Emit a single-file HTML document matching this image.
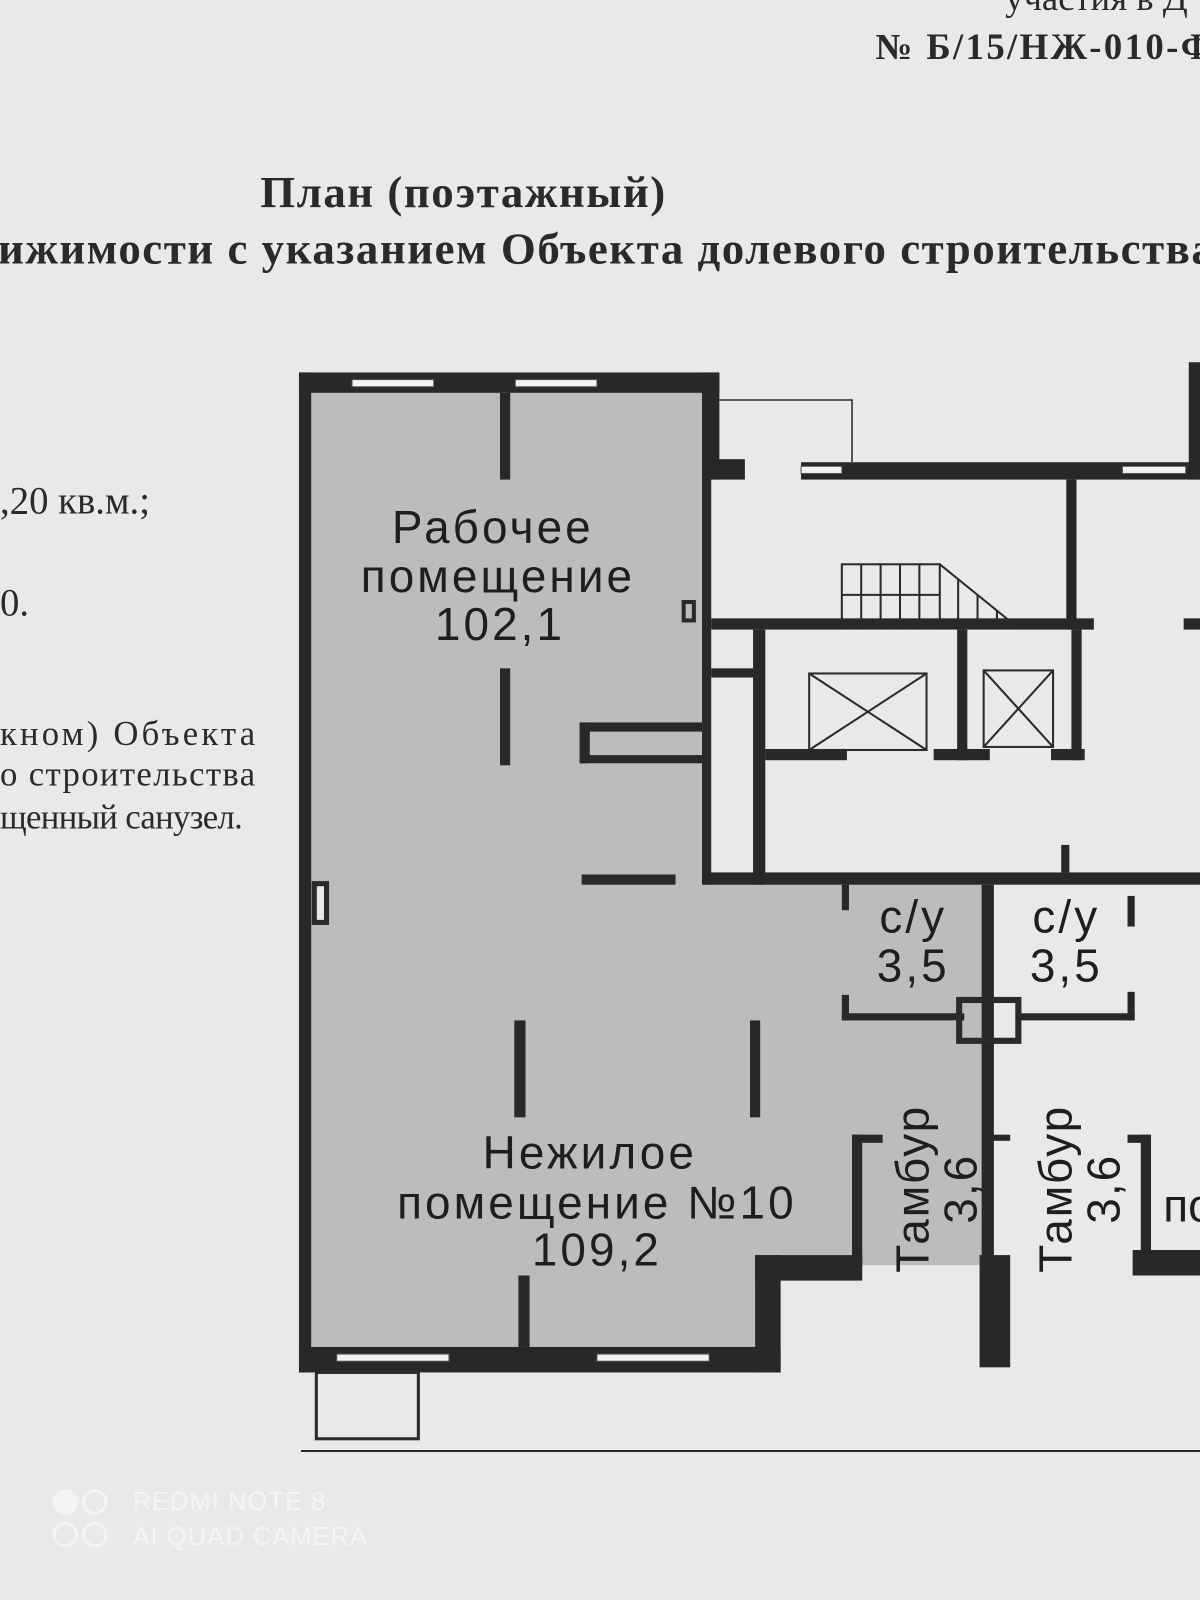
<!DOCTYPE html>
<html><head><meta charset="utf-8"><style>
html,body{margin:0;padding:0;width:1200px;height:1600px;overflow:hidden;background:#e9e9e7}
svg{display:block}
.s{font-family:"Liberation Serif","DejaVu Serif",serif;fill:#2a2a2a}
.p{font-family:"Liberation Sans","DejaVu Sans",sans-serif;fill:#1e1e1e}
</style></head><body>
<svg width="1200" height="1600" viewBox="0 0 1200 1600" xmlns="http://www.w3.org/2000/svg">
<rect width="1200" height="1600" fill="#e9e9e7"/>
<g transform="scale(1.0204)">
<text class="s" x="985" y="10" font-size="36">участия в Д</text>
<text class="s" x="858" y="58" font-size="36" font-weight="bold" textLength="330">№ Б/15/НЖ-010-Ф</text>
<text class="s" x="255" y="203" font-size="44" font-weight="bold" letter-spacing="1.5">План (поэтажный)</text>
<text class="s" x="-2" y="258" font-size="44" font-weight="bold" letter-spacing="1.5">ижимости с указанием Объекта долевого строительства</text>
<text class="s" x="0" y="503" font-size="38">,20 кв.м.;</text>
<text class="s" x="0" y="603" font-size="38">0.</text>
<text class="s" x="0" y="730" font-size="34" textLength="250">кном)   Объекта</text>
<text class="s" x="0" y="770" font-size="34" textLength="250">о  строительства</text>
<text class="s" x="0" y="812" font-size="34" textLength="238">щенный санузел.</text>

<polygon points="305,385 688,385 688,865 965,865 965,1240 840,1240 840,1230 740,1230 740,1320 305,1320" fill="#bdbcba"/>

<g fill="#282828">
<rect x="293" y="365" width="12" height="980"/>
<rect x="293" y="365" width="412" height="20"/>
<rect x="688" y="365" width="17" height="105"/>
<rect x="688" y="450" width="42" height="20"/>
<rect x="688" y="450" width="9" height="417"/>
<rect x="293" y="1320" width="472" height="25"/>
<rect x="740" y="1230" width="25" height="115"/>
<rect x="740" y="1230" width="105" height="25"/>
<rect x="490" y="385" width="10" height="85"/>
<rect x="490" y="655" width="10" height="95"/>
<rect x="504" y="1000" width="11" height="95"/>
<rect x="735" y="1000" width="10" height="95"/>
<rect x="508" y="1250" width="11" height="70"/>
<rect x="570" y="857" width="92" height="10"/>
<rect x="568" y="708" width="120" height="9"/>
<rect x="568" y="708" width="10" height="40"/>
<rect x="568" y="740" width="120" height="8"/>
<rect x="785" y="453" width="390" height="17"/>
<rect x="1165" y="355" width="11" height="115"/>
<rect x="1045" y="470" width="10" height="147"/>
<rect x="697" y="606" width="375" height="11"/>
<rect x="1160" y="606" width="40" height="11"/>
<rect x="738" y="617" width="12" height="250"/>
<rect x="697" y="655" width="41" height="9"/>
<rect x="750" y="734" width="80" height="11"/>
<rect x="938" y="617" width="10" height="128"/>
<rect x="915" y="734" width="55" height="11"/>
<rect x="1050" y="617" width="10" height="128"/>
<rect x="1030" y="734" width="33" height="11"/>
<rect x="688" y="855" width="512" height="12"/>
<rect x="1040" y="828" width="8" height="27"/>
<rect x="962" y="867" width="12" height="375"/>
<rect x="960" y="1230" width="30" height="110"/>
<rect x="825" y="867" width="7" height="25"/>
<rect x="825" y="975" width="7" height="25"/>
<rect x="825" y="993" width="120" height="7"/>
<rect x="1000" y="993" width="112" height="7"/>
<rect x="1105" y="878" width="7" height="30"/>
<rect x="1105" y="972" width="7" height="28"/>
<rect x="965" y="1112" width="25" height="6"/>
<rect x="835" y="1112" width="10" height="130"/>
<rect x="835" y="1112" width="30" height="8"/>
<rect x="1118" y="1112" width="10" height="125"/>
<rect x="1105" y="1112" width="23" height="8"/>
<rect x="1110" y="1225" width="90" height="25"/>
</g>
<g fill="#f2f2f0" stroke="#555" stroke-width="1">
<rect x="345" y="372" width="80" height="7"/>
<rect x="505" y="372" width="80" height="7"/>
<rect x="330" y="1327" width="110" height="7"/>
<rect x="585" y="1327" width="110" height="7"/>
<rect x="785" y="457" width="40" height="7"/>
<rect x="1100" y="457" width="62" height="7"/>
</g>
<g fill="none" stroke="#2a2a2a">
<polyline points="705,392 835,392 835,453" stroke-width="1.5"/>
<rect x="308" y="866" width="12" height="38" stroke-width="5" fill="#e9e9e7"/>
<rect x="670" y="590" width="10" height="18" stroke-width="4"/>
<rect x="940" y="980" width="58" height="40" stroke-width="6"/>
<rect x="310" y="1345" width="100" height="65" stroke-width="3"/>
<line x1="295" y1="1422" x2="1200" y2="1422" stroke-width="2"/>
<g stroke-width="2">
<rect x="825" y="553" width="96" height="60"/>
<line x1="825" y1="583" x2="921" y2="583"/>
<line x1="844" y1="553" x2="844" y2="613"/><line x1="863" y1="553" x2="863" y2="613"/>
<line x1="882" y1="553" x2="882" y2="613"/><line x1="901" y1="553" x2="901" y2="613"/>
<polyline points="921,553 995,613 921,613"/>
<line x1="939" y1="568" x2="939" y2="613"/><line x1="958" y1="583" x2="958" y2="613"/><line x1="977" y1="598" x2="977" y2="613"/>
<rect x="793" y="660" width="115" height="75"/>
<line x1="793" y1="660" x2="908" y2="735"/><line x1="908" y1="660" x2="793" y2="735"/>
<rect x="964" y="657" width="68" height="75"/>
<line x1="964" y1="657" x2="1032" y2="732"/><line x1="1032" y1="657" x2="964" y2="732"/>
</g>
</g>
<g class="p" text-anchor="middle" font-size="45" letter-spacing="3">
<text x="483" y="532">Рабочее</text>
<text x="488" y="580">помещение</text>
<text x="490" y="627">102,1</text>
<text x="578" y="1145">Нежилое</text>
<text x="585" y="1194">помещение №10</text>
<text x="585" y="1240">109,2</text>
<text x="895" y="914">с/у</text>
<text x="895" y="962">3,5</text>
<text x="1045" y="914">с/у</text>
<text x="1045" y="962">3,5</text>
</g>
<g class="p" font-size="45" text-anchor="middle" letter-spacing="2">
<text transform="translate(910,1165) rotate(-90)">Тамбур</text>
<text transform="translate(957,1165) rotate(-90)">3,6</text>
<text transform="translate(1050,1165) rotate(-90)">Тамбур</text>
<text transform="translate(1097,1165) rotate(-90)">3,6</text>
</g>
<text class="p" x="1140" y="1197" font-size="45">по</text>
<g fill="none" stroke="#f4f4f4" stroke-width="3">
<circle cx="64" cy="1472" r="11" fill="#f4f4f4"/><circle cx="93" cy="1472" r="11"/>
<circle cx="64" cy="1504" r="11"/><circle cx="93" cy="1504" r="11"/>
</g>
<text x="130" y="1480" font-family="Liberation Sans,sans-serif" font-size="25" fill="#f4f4f4" letter-spacing="1">REDMI NOTE 8</text>
<text x="130" y="1514" font-family="Liberation Sans,sans-serif" font-size="25" fill="#f4f4f4" letter-spacing="1">AI QUAD CAMERA</text>
</g>
</svg>
</body></html>
